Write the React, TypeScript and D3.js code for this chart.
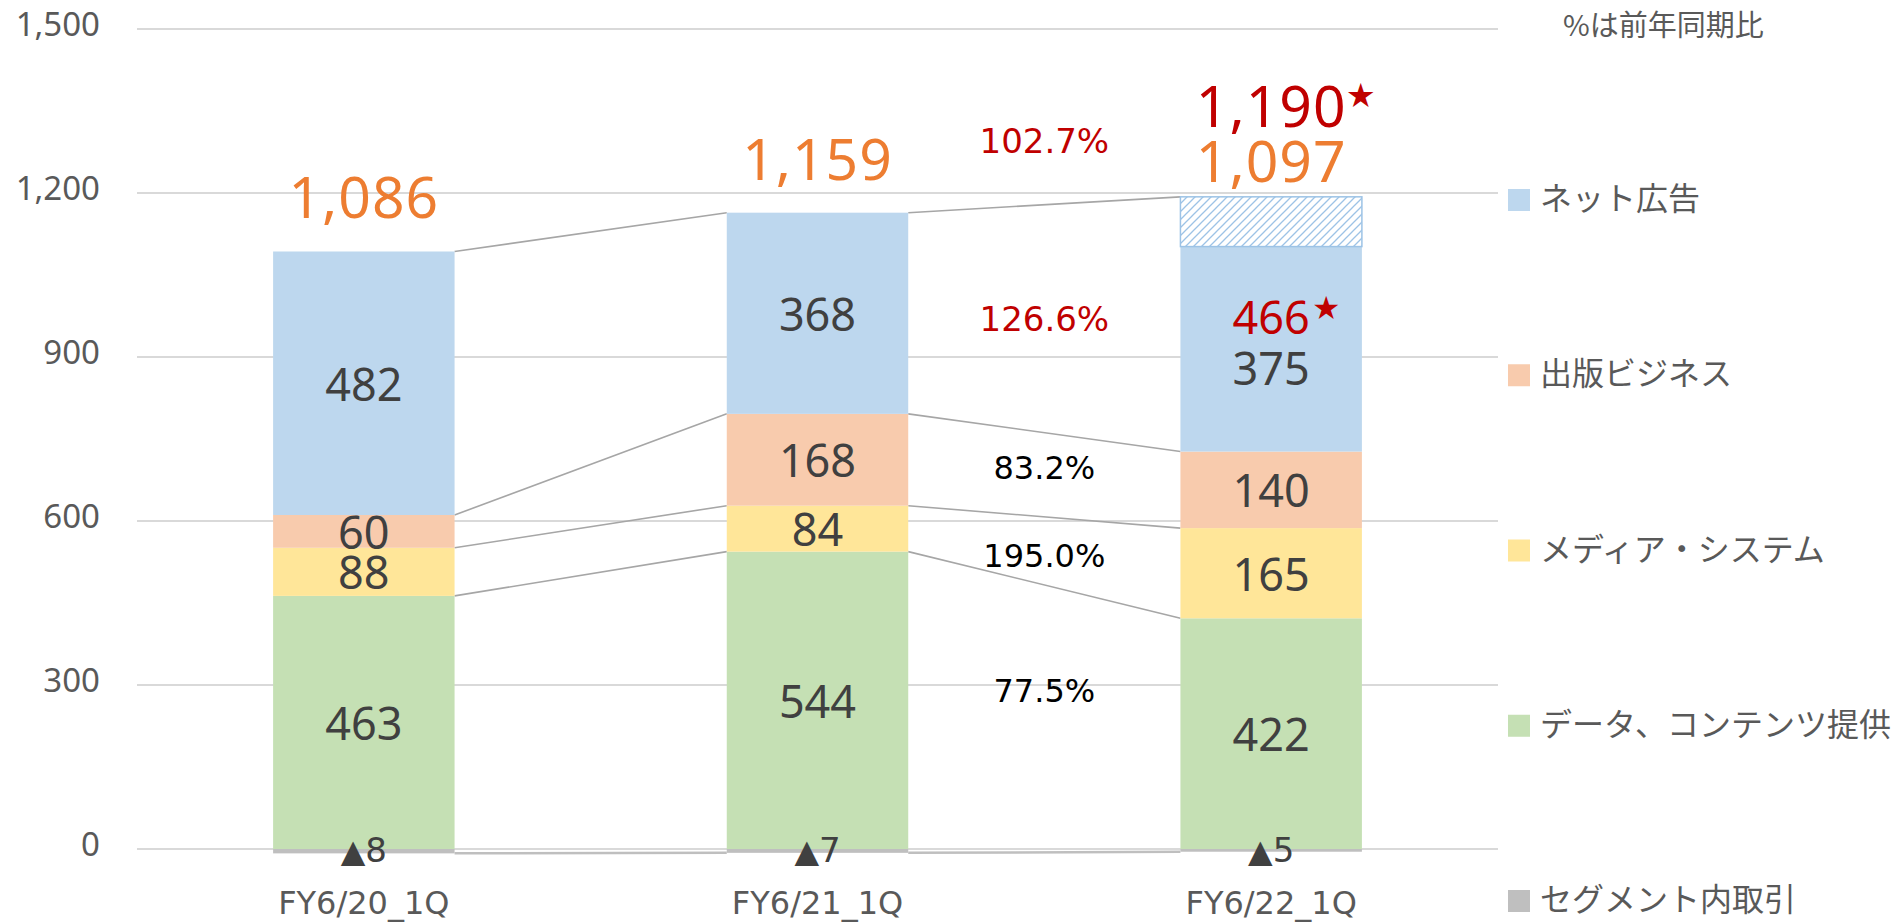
import React from "react";
import * as d3 from "d3";

// ---- data ----
const categories = ["FY6/20_1Q", "FY6/21_1Q", "FY6/22_1Q"];
const dataContents = [463, 544, 422]; // データ、コンテンツ提供
const mediaSystem = [88, 84, 165]; // メディア・システム
const publishing = [60, 168, 140]; // 出版ビジネス
const netAd = [482, 368, 375]; // ネット広告
const intraSegment = [-8, -7, -5]; // セグメント内取引
const totals = [1086, 1159, 1097];
const netAdAdjusted = [null, null, 466] as (number | null)[];
const totalAdjusted = [null, null, 1190] as (number | null)[];
const yTicks = [0, 300, 600, 900, 1200, 1500];
const seriesKeys = ["data", "media", "publishing", "netAd"];
const legendLabels = ["ネット広告", "出版ビジネス", "メディア・システム", "データ、コンテンツ提供", "セグメント内取引"];
const growthTotal = "102.7%";
const growthNetAd = "126.6%";
const growthPublishing = "83.2%";
const growthMedia = "195.0%";
const growthData = "77.5%";
const noteText = "%は前年同期比";

// ---- style ----
const W = 1896;
const H = 922;
const colors: Record<string, string> = {
  data: "#C5E0B4",
  media: "#FFE699",
  publishing: "#F8CBAD",
  netAd: "#BDD7EE",
  seg: "#BFBFBF",
};
const legendColors = [colors.netAd, colors.publishing, colors.media, colors.data, colors.seg];
const LATIN = "'Noto Sans', 'Noto Sans CJK JP', sans-serif";
const WIDE = "'DejaVu Sans', 'Noto Sans', sans-serif";
const CJK = "'Noto Sans CJK JP', 'Noto Sans', sans-serif";

export default function App() {
  const x = d3.scaleBand<string>().domain(categories).range([137, 1498]).paddingInner(0.6).paddingOuter(0.3);
  const y = d3.scaleLinear().domain([0, 1500]).range([849, 29]);

  const rows = categories.map((c, i) => ({
    cat: c,
    data: dataContents[i],
    media: mediaSystem[i],
    publishing: publishing[i],
    netAd: netAd[i],
  }));
  const stacked = d3.stack<any>().keys(seriesKeys)(rows);
  const bw = x.bandwidth();

  const topOf = (i: number) => {
    const base = stacked[3][i][1];
    const adj = netAdAdjusted[i];
    return adj != null ? base + (adj - netAd[i]) : base;
  };

  const boundaries = (i: number) => [
    intraSegment[i],
    stacked[0][i][1],
    stacked[1][i][1],
    stacked[2][i][1],
    topOf(i),
  ];

  const connectors: { x1: number; y1: number; x2: number; y2: number; k: number }[] = [];
  for (let i = 0; i < categories.length - 1; i++) {
    const a = boundaries(i);
    const b = boundaries(i + 1);
    a.forEach((v, k) => {
      connectors.push({
        x1: (x(categories[i]) as number) + bw,
        y1: y(v),
        x2: x(categories[i + 1]) as number,
        y2: y(b[k]),
        k,
      });
    });
  }

  const segLabel = (key: string, i: number) => {
    const si = seriesKeys.indexOf(key);
    const d = stacked[si][i];
    return (d[0] + d[1]) / 2;
  };

  const i2 = 1;
  const i3 = 2;
  const gx = ((x(categories[i2]) as number) + bw + (x(categories[i3]) as number)) / 2;
  const netMid3 = (stacked[2][i3][1] + topOf(i3)) / 2;
  const annotations = [
    { text: growthTotal, color: "#C00000", yc: (y(topOf(i2)) + y(topOf(i3))) / 2 - 64, size: 34 },
    { text: growthNetAd, color: "#C00000", yc: (y(segLabel("netAd", i2)) + y(netMid3)) / 2, size: 34 },
    { text: growthPublishing, color: "#000000", yc: (y(segLabel("publishing", i2)) + y(segLabel("publishing", i3))) / 2 - 7, size: 32 },
    { text: growthMedia, color: "#000000", yc: (y(segLabel("media", i2)) + y(segLabel("media", i3))) / 2 + 5, size: 32 },
    { text: growthData, color: "#000000", yc: (y(segLabel("data", i2)) + y(segLabel("data", i3))) / 2 - 26, size: 32 },
  ];

  const fmt = d3.format(",");

  return (
    <div style={{ position: "absolute", left: 0, top: 0 }}>
      <svg width={W} height={H} style={{ display: "block", background: "#fff" }}>
        <defs>
          <pattern id="hatch" width="8" height="8" patternUnits="userSpaceOnUse">
            <rect width="8" height="8" fill="#fff" />
            <path d="M-2,2 l4,-4 M0,8 l8,-8 M6,10 l4,-4" stroke="#9DC3E6" strokeWidth="1.3" />
          </pattern>
        </defs>

        {/* gridlines */}
        {yTicks.map((t) => (
          <line key={t} x1={137} x2={1498} y1={y(t)} y2={y(t)} stroke="#D9D9D9" strokeWidth={2} />
        ))}
        {/* y tick labels */}
        {yTicks.map((t) => (
          <text key={"l" + t} x={100} y={y(t) + 7} textAnchor="end" fontSize={33} fill="#595959" fontFamily={LATIN}>
            {fmt(t)}
          </text>
        ))}

        {/* connector lines */}
        {connectors.map((c, j) => (
          <line
            key={"c" + j}
            x1={c.x1}
            y1={c.y1}
            x2={c.x2}
            y2={c.y2}
            stroke={c.k === 0 ? "#BFBFBF" : "#A6A6A6"}
            strokeWidth={c.k === 0 ? 2.5 : 1.6}
          />
        ))}

        {/* stacked bars */}
        {stacked.map((s) =>
          s.map((d, i) => (
            <rect
              key={s.key + i}
              x={x(categories[i])}
              width={bw}
              y={y(d[1])}
              height={y(d[0]) - y(d[1])}
              fill={colors[s.key]}
            />
          ))
        )}
        {/* intra-segment negative bars */}
        {intraSegment.map((v, i) => (
          <rect key={"seg" + i} x={x(categories[i])} width={bw} y={y(0)} height={y(v) - y(0)} fill={colors.seg} />
        ))}
        {/* hatched adjusted net ad */}
        {netAdAdjusted.map((v, i) =>
          v == null ? null : (
            <rect
              key={"h" + i}
              x={x(categories[i])}
              width={bw}
              y={y(topOf(i))}
              height={y(stacked[3][i][1]) - y(topOf(i))}
              fill="url(#hatch)"
              stroke="#9DC3E6"
              strokeWidth={1.5}
            />
          )
        )}

        {/* segment value labels */}
        {stacked.map((s) =>
          s.map((d, i) => {
            const cx = (x(categories[i]) as number) + bw / 2;
            const v = d[1] - d[0];
            const mid = y((d[0] + d[1]) / 2);
            const adj = s.key === "netAd" ? netAdAdjusted[i] : null;
            if (adj != null) {
              return (
                <g key={"t" + s.key + i}>
                  <text x={cx} y={mid - 33} textAnchor="middle" dominantBaseline="central" fontSize={45} fill="#C00000" fontFamily={LATIN}>
                    {adj}
                  </text>
                  <text x={cx + 42} y={mid - 32} fontSize={26} fill="#C00000" fontFamily={CJK}>
                    ★
                  </text>
                  <text x={cx} y={mid + 18} textAnchor="middle" dominantBaseline="central" fontSize={45} fill="#404040" fontFamily={LATIN}>
                    {v}
                  </text>
                </g>
              );
            }
            return (
              <text key={"t" + s.key + i} x={cx} y={mid} textAnchor="middle" dominantBaseline="central" fontSize={45} fill="#404040" fontFamily={LATIN}>
                {v}
              </text>
            );
          })
        )}
        {/* intra-segment labels */}
        {intraSegment.map((v, i) => (
          <text
            key={"sl" + i}
            x={(x(categories[i]) as number) + bw / 2}
            y={y(0) + 13}
            textAnchor="middle"
            fontSize={34}
            fill="#404040"
            fontFamily={WIDE}
          >
            <tspan fontSize={32}>▲</tspan>
            {Math.abs(v)}
          </text>
        ))}

        {/* totals */}
        {totals.map((t, i) => {
          const cx = (x(categories[i]) as number) + bw / 2;
          const top = y(topOf(i));
          const adj = totalAdjusted[i];
          const base = adj != null ? top - 15 : top - 33;
          return (
            <g key={"tot" + i}>
              <text x={cx} y={base} textAnchor="middle" fontSize={57} letterSpacing={1} fill="#ED7D31" fontFamily={LATIN}>
                {fmt(t)}
              </text>
              {adj != null && (
                <>
                  <text x={cx} y={base - 55} textAnchor="middle" fontSize={57} letterSpacing={1} fill="#C00000" fontFamily={LATIN}>
                    {fmt(adj)}
                  </text>
                  <text x={cx + 76} y={base - 77} fontSize={27} fill="#C00000" fontFamily={CJK}>
                    ★
                  </text>
                </>
              )}
            </g>
          );
        })}

        {/* growth annotations */}
        {annotations.map((a, j) => (
          <text key={"a" + j} x={gx} y={a.yc} textAnchor="middle" dominantBaseline="central" fontSize={a.size} fill={a.color} fontFamily={WIDE}>
            {a.text}
          </text>
        ))}

        {/* x labels */}
        {categories.map((c) => (
          <text key={c} x={(x(c) as number) + bw / 2} y={914} textAnchor="middle" fontSize={32} fill="#595959" fontFamily={WIDE}>
            {c}
          </text>
        ))}

        {/* note */}
        <text x={1563} y={23} dominantBaseline="central" fontSize={29} fill="#595959" fontFamily={CJK}>
          {noteText}
        </text>

        {/* legend */}
        {legendLabels.map((l, j) => {
          const cy = 200 + j * 175.25;
          return (
            <g key={l}>
              <rect x={1508} y={cy - 11} width={22} height={22} fill={legendColors[j]} />
              <text x={1540} y={cy - 4} dominantBaseline="central" fontSize={32} fill="#595959" fontFamily={CJK}>
                {l}
              </text>
            </g>
          );
        })}
      </svg>
    </div>
  );
}
